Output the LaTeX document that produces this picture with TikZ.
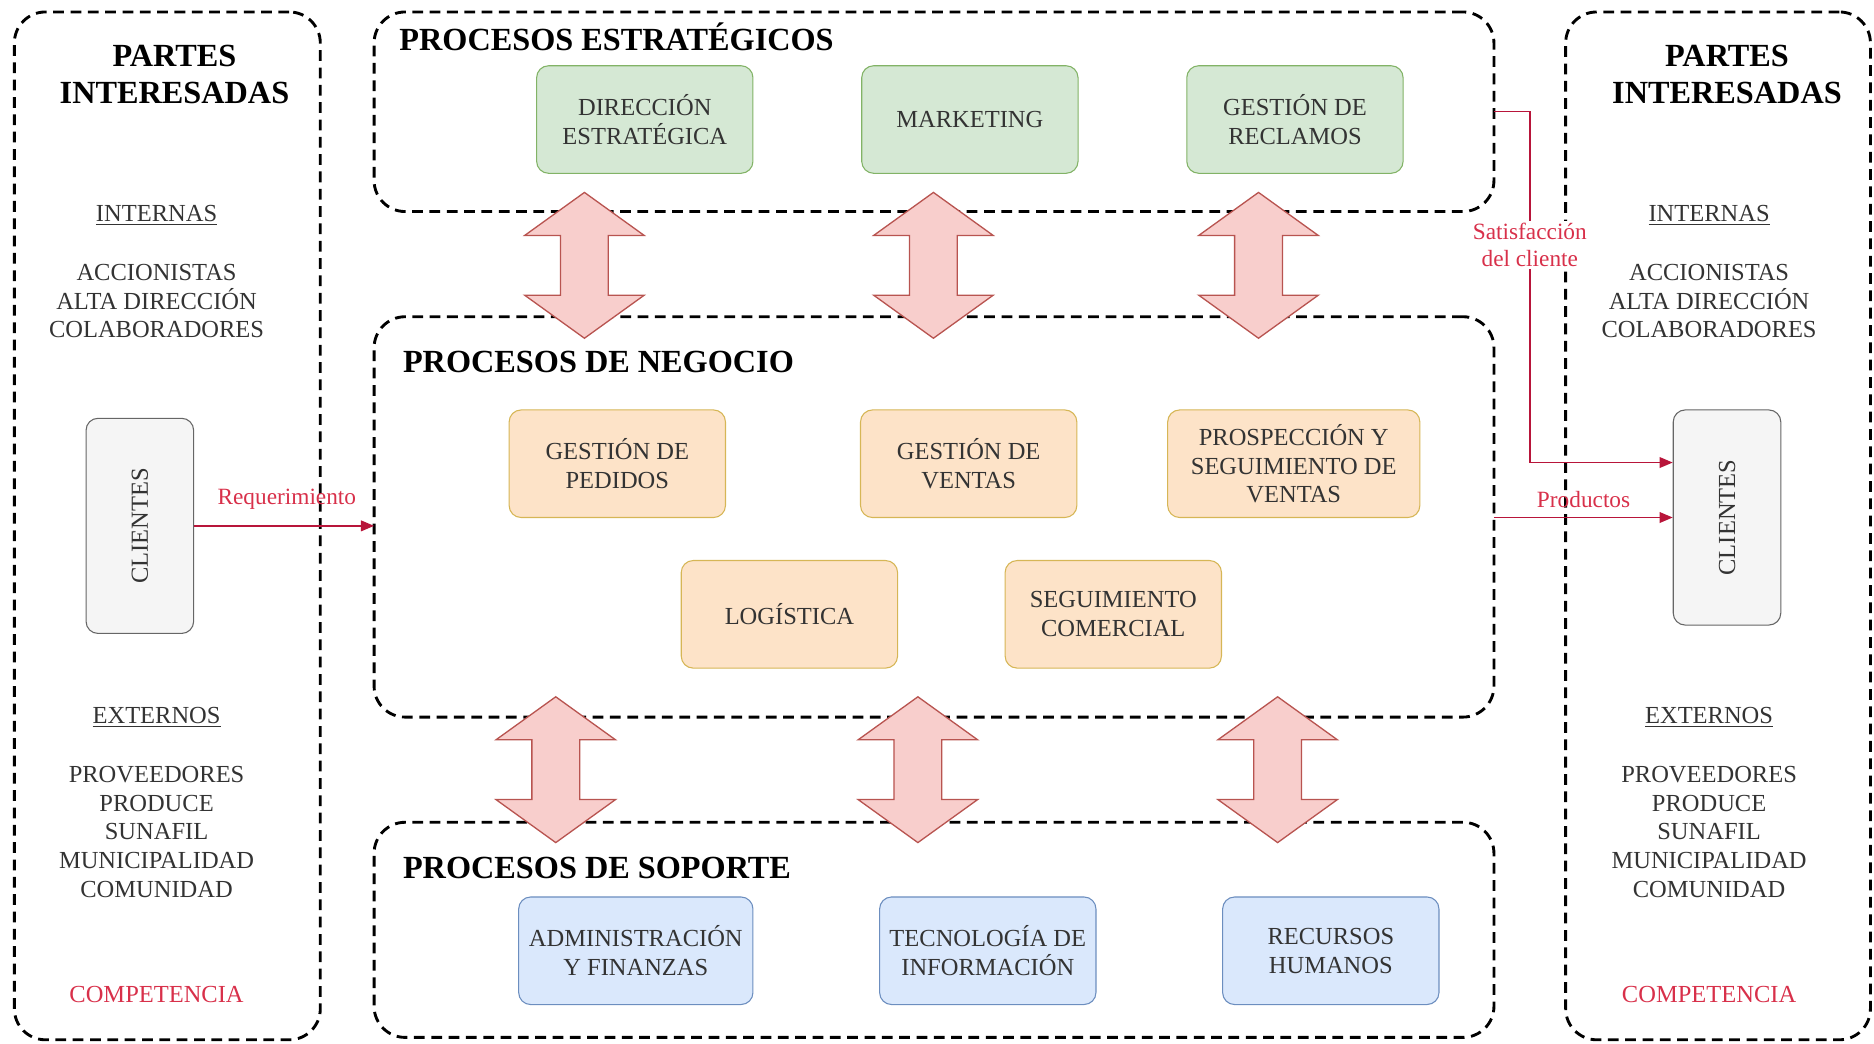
\documentclass[tikz,border=0pt]{standalone}
\usepackage{fontspec}
\setmainfont{Liberation Serif}
\usetikzlibrary{arrows.meta}

\definecolor{greenfill}{HTML}{D5E8D4}
\definecolor{greenline}{HTML}{82B366}
\definecolor{orangefill}{HTML}{FDE3C8}
\definecolor{orangeline}{HTML}{D6B656}
\definecolor{bluefill}{HTML}{DAE8FC}
\definecolor{blueline}{HTML}{6C8EBF}
\definecolor{grayfill}{HTML}{F5F5F5}
\definecolor{grayline}{HTML}{666666}
\definecolor{pinkfill}{HTML}{F8CECC}
\definecolor{pinkline}{HTML}{B85450}
\definecolor{flowred}{HTML}{B8153A}
\definecolor{labelred}{HTML}{D8304A}
\definecolor{bodytext}{HTML}{333333}

\begin{document}
\begin{tikzpicture}[x=1pt,y=-1pt,
  frame/.style={draw=black, line width=2.4pt, dash pattern=on 9pt off 5.5pt,
    rounded corners=26pt, inner sep=0pt, outer sep=0pt, anchor=north west},
  procbox/.style={rounded corners=10pt, line width=0.9pt, minimum width=181pt,
    minimum height=90pt, align=center, inner sep=2pt, text=bodytext,
    font=\fontsize{20.5}{24}\selectfont},
  greenbox/.style={procbox, fill=greenfill, draw=greenline},
  orangebox/.style={procbox, fill=orangefill, draw=orangeline},
  bluebox/.style={procbox, fill=bluefill, draw=blueline},
  clientbox/.style={procbox, fill=grayfill, draw=grayline, minimum width=90pt,
    minimum height=180pt},
  grouptitle/.style={anchor=west, inner sep=0pt, font=\bfseries\fontsize{27}{31}\selectfont},
  paneltitle/.style={align=center, inner sep=0pt, font=\bfseries\fontsize{27}{31}\selectfont},
  bodyblock/.style={align=center, inner sep=0pt, text=bodytext,
    font=\fontsize{20.5}{24}\selectfont},
  redtext/.style={align=center, inner sep=1pt, text=labelred,
    font=\fontsize{19.5}{23}\selectfont},
  flow/.style={draw=flowred, line width=1.2pt, -{Triangle[length=11pt,width=9pt]}},
  bigarrow/.style={fill=pinkfill, draw=pinkline, line width=1.1pt, line join=miter},
  dblarrow/.pic={
    \path[bigarrow] (0,-61) -- (50,-25) -- (20,-25) -- (20,25) -- (50,25)
      -- (0,61) -- (-50,25) -- (-20,25) -- (-20,-25) -- (-50,-25) -- cycle;
  }
]
\useasboundingbox (0,0) rectangle (1568,873);

% dashed frames
\node[frame, minimum width=256pt, minimum height=860pt] (left) at (12,10) {};
\node[frame, minimum width=255pt, minimum height=860pt] (right) at (1310,10) {};
\node[frame, minimum width=937pt, minimum height=167pt] (est) at (313,10) {};
\node[frame, minimum width=937pt, minimum height=335pt] (neg) at (313,265) {};
\node[frame, minimum width=937pt, minimum height=180pt] (sop) at (313,688) {};

% group titles
\node[grouptitle] (tEst) at (334,31) {PROCESOS ESTRATÉGICOS};
\node[grouptitle] (tNeg) at (337,303) {PROCESOS DE NEGOCIO};
\node[grouptitle] (tSop) at (337,726) {PROCESOS DE SOPORTE};

% strategic processes
\node[greenbox] (dir) at (539.5,100) {DIRECCIÓN\\ESTRATÉGICA};
\node[greenbox] (mkt) at (811.5,100) {MARKETING};
\node[greenbox] (rec) at (1083.5,100) {GESTIÓN DE\\RECLAMOS};

% business processes
\node[orangebox] (ped) at (516.5,388) {GESTIÓN DE\\PEDIDOS};
\node[orangebox] (ven) at (810.5,388) {GESTIÓN DE\\VENTAS};
\node[orangebox, minimum width=211pt] (pro) at (1082.5,388) {PROSPECCIÓN Y\\SEGUIMIENTO DE\\VENTAS};
\node[orangebox] (log) at (660.5,514) {LOGÍSTICA};
\node[orangebox] (com) at (931.5,514) {SEGUIMIENTO\\COMERCIAL};

% support processes
\node[bluebox, minimum width=196pt] (adm) at (532,795.5) {ADMINISTRACIÓN\\Y FINANZAS};
\node[bluebox] (tec) at (826.5,795.5) {TECNOLOGÍA DE\\INFORMACIÓN};
\node[bluebox] (rrh) at (1113.5,795.5) {RECURSOS\\HUMANOS};

% interested parties, left
\node[paneltitle] (pl) at (146,62) {PARTES\\INTERESADAS};
\node[bodyblock] (il) at (131,180) {\underline{INTERNAS}};
\node[bodyblock] (al) at (131,252) {ACCIONISTAS\\ALTA DIRECCIÓN\\COLABORADORES};
\node[clientbox] (cl) at (117,440) {};
\node[rotate=90, bodyblock] (cltxt) at (cl.center) {CLIENTES};
\node[bodyblock] (el) at (131,600) {\underline{EXTERNOS}};
\node[bodyblock] (xl) at (131,696) {PROVEEDORES\\PRODUCE\\SUNAFIL\\MUNICIPALIDAD\\COMUNIDAD};
\node[redtext] (kl) at (131,832) {\fontsize{20.5}{24}\selectfont COMPETENCIA};

% interested parties, right
\node[paneltitle] (pr) at (1445,62) {PARTES\\INTERESADAS};
\node[bodyblock] (ir) at (1430,180) {\underline{INTERNAS}};
\node[bodyblock] (ar) at (1430,252) {ACCIONISTAS\\ALTA DIRECCIÓN\\COLABORADORES};
\node[clientbox] (cr) at (1445,433) {};
\node[rotate=90, bodyblock] (crtxt) at (cr.center) {CLIENTES};
\node[bodyblock] (er) at (1430,600) {\underline{EXTERNOS}};
\node[bodyblock] (xr) at (1430,696) {PROVEEDORES\\PRODUCE\\SUNAFIL\\MUNICIPALIDAD\\COMUNIDAD};
\node[redtext] (kr) at (1430,832) {\fontsize{20.5}{24}\selectfont COMPETENCIA};

% flows with customers
\draw[flow] (cl.east) -- (neg.west |- cl.east);
\node[redtext] (lreq) at (240,418) {Requerimiento};

\draw[flow] (neg.east |- cr.west) -- (cr.west);
\node[redtext] (lprod) at (1325,418) {Productos};

\coordinate (sbend) at (1280,0);
\draw[flow] (est.east) -- (sbend |- est.east) -- (sbend |- 0,387) -- (cr.west |- 0,387);
\node[redtext, fill=white, inner sep=2pt] (lsat) at (1280,205) {Satisfacción\\del cliente};

% links between process levels
\pic (up1) at (489,222) {dblarrow};
\pic (up2) at (781,222) {dblarrow};
\pic (up3) at (1053,222) {dblarrow};
\pic (dn1) at (465,644) {dblarrow};
\pic (dn2) at (768,644) {dblarrow};
\pic (dn3) at (1069,644) {dblarrow};
\end{tikzpicture}
\end{document}
